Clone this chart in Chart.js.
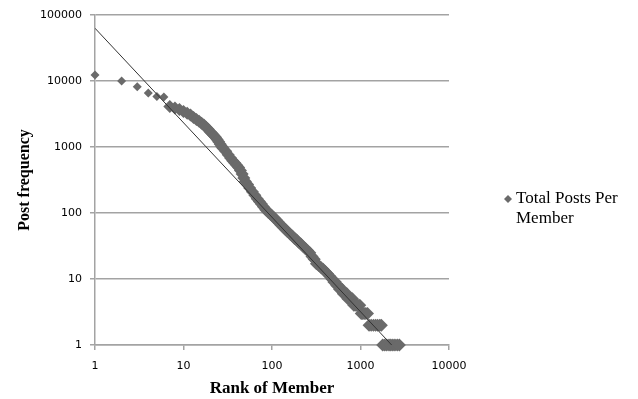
<!DOCTYPE html>
<html>
<head>
<meta charset="utf-8">
<script src="https://cdn.jsdelivr.net/npm/chart.js@4/dist/chart.umd.min.js"></script>
<style>
  body { margin: 0; background: #fff; }
  #wrap { width: 638px; height: 399px; }
</style>
</head>
<body>
<div id="wrap"><canvas id="postsChart" width="638" height="399"></canvas></div>
<script>
// Rank of member vs number of posts
const ranks = [1, 2, 3, 4, 5, 6, 7, 8, 9, 10, 11, 12, 13, 14, 15, 16, 17, 18, 19, 20,
    21, 22, 23, 24, 25, 26, 27, 28, 30, 32, 34, 36, 38, 40, 42, 44, 46, 48, 50, 53,
    56, 60, 64, 68, 72, 76, 80, 85, 90, 95, 100, 106, 112, 119, 126, 134, 142, 150, 160, 170,
    180, 190, 200, 212, 225, 238, 252, 267, 283, 300, 318, 337, 357, 378, 400, 424, 450, 475, 500, 520,
    540, 560, 580, 600, 620, 640, 660, 680, 700, 720, 750, 780, 810, 840, 870, 900, 940, 980, 1020, 1060,
    1100, 1150, 1200, 1250, 1320, 1400, 1480, 1560, 1650, 1720, 1780, 1880, 1980, 2100, 2200, 2320, 2450, 2600, 2750];
const posts = [12300, 10000, 8200, 6600, 5800, 5700, 4100, 3900, 3700, 3450, 3250, 3050, 2800, 2600, 2450, 2300, 2150, 2000, 1850, 1700,
    1600, 1500, 1400, 1300, 1200, 1100, 1020, 960, 860, 760, 680, 620, 570, 530, 490, 440, 390, 340, 300, 270,
    240, 210, 185, 165, 150, 137, 124, 112, 104, 97, 91, 84, 78, 72, 66, 61, 56, 52, 48, 45,
    41, 39, 36, 34, 31, 29, 27, 25, 22, 20, 17, 16, 15, 14, 13, 12, 11, 10, 9, 9,
    8, 8, 7, 7, 7, 6, 6, 6, 6, 5, 5, 5, 5, 4, 4, 4, 4, 4, 3, 3,
    3, 3, 3, 2, 2, 2, 2, 2, 2, 2, 1, 1, 1, 1, 1, 1, 1, 1, 1];

// Power trendline end points
const trendX = [1, 2250];
const trendY = [63000, 1];

const xTicks = [1, 10, 100, 1000, 10000];
const yTicks = [1, 10, 100, 1000, 10000, 100000];
const seriesName = ["Total Posts Per", "Member"];

const gridGray = "#a3a3a3";
const markGray = "#6a6a6a";

// Legend drawn by hand so the label can wrap onto two lines
const sideLegend = {
    id: "sideLegend",
    afterDraw(chart) {
        const ctx = chart.ctx;
        const x = 508, y = 199;
        ctx.save();
        ctx.fillStyle = markGray;
        ctx.beginPath();
        ctx.moveTo(x, y - 4);
        ctx.lineTo(x + 4, y);
        ctx.lineTo(x, y + 4);
        ctx.lineTo(x - 4, y);
        ctx.closePath();
        ctx.fill();
        ctx.fillStyle = "#000";
        ctx.font = '17px "Liberation Serif"';
        ctx.textBaseline = "middle";
        ctx.textAlign = "left";
        ctx.fillText(seriesName[0], 516, y);
        ctx.fillText(seriesName[1], 516, y + 20);
        ctx.restore();
    }
};

const chart = new Chart(document.getElementById("postsChart").getContext("2d"), {
    type: "scatter",
    data: {
        datasets: [
            {
                label: "Power trend",
                data: trendX.map((v, i) => ({ x: v, y: trendY[i] })),
                showLine: true,
                borderColor: "#333333",
                borderWidth: 1,
                pointRadius: 0
            },
            {
                label: seriesName.join(" "),
                data: ranks.map((v, i) => ({ x: v, y: posts[i] })),
                clip: false,
                pointStyle: "rectRot",
                pointRadius: ctx => (ctx.raw && ctx.raw.x < 7 ? 4.5 : 6.5),
                backgroundColor: markGray,
                borderColor: markGray,
                borderWidth: 0
            }
        ]
    },
    options: {
        responsive: false,
        animation: false,
        layout: { padding: { left: 0, right: 189, top: 15, bottom: 0 } },
        plugins: {
            legend: { display: false },
            tooltip: { enabled: false }
        },
        scales: {
            x: {
                type: "logarithmic",
                min: 1,
                max: 10000,
                afterBuildTicks: s => { s.ticks = xTicks.map(v => ({ value: v })); },
                afterFit: s => { s.height = 54; },
                ticks: {
                    callback: v => String(v),
                    color: "#000",
                    font: { family: "DejaVu Sans", size: 11 },
                    padding: 10,
                    maxRotation: 0
                },
                grid: { drawOnChartArea: false, drawTicks: true, tickLength: 5, color: gridGray, lineWidth: 1.5 },
                border: { color: gridGray, width: 1.5 },
                title: {
                    display: true,
                    text: "Rank of Member",
                    color: "#000",
                    font: { family: "Liberation Serif", size: 17, weight: "bold", lineHeight: 1.2 },
                    padding: { top: 0, bottom: 0 }
                }
            },
            y: {
                type: "logarithmic",
                min: 1,
                max: 100000,
                afterBuildTicks: s => { s.ticks = yTicks.map(v => ({ value: v })); },
                afterFit: s => { s.width = 95; },
                ticks: {
                    callback: v => String(v),
                    color: "#000",
                    font: { family: "DejaVu Sans", size: 11 },
                    padding: 8
                },
                grid: { color: gridGray, lineWidth: 1.5, tickLength: 5 },
                border: { color: gridGray, width: 1.5 },
                title: {
                    display: true,
                    text: "Post frequency",
                    color: "#000",
                    font: { family: "Liberation Serif", size: 16, weight: "bold", lineHeight: 1.2 },
                    padding: { top: 15, bottom: 0 }
                }
            }
        }
    },
    plugins: [sideLegend]
});
</script>
</body>
</html>
